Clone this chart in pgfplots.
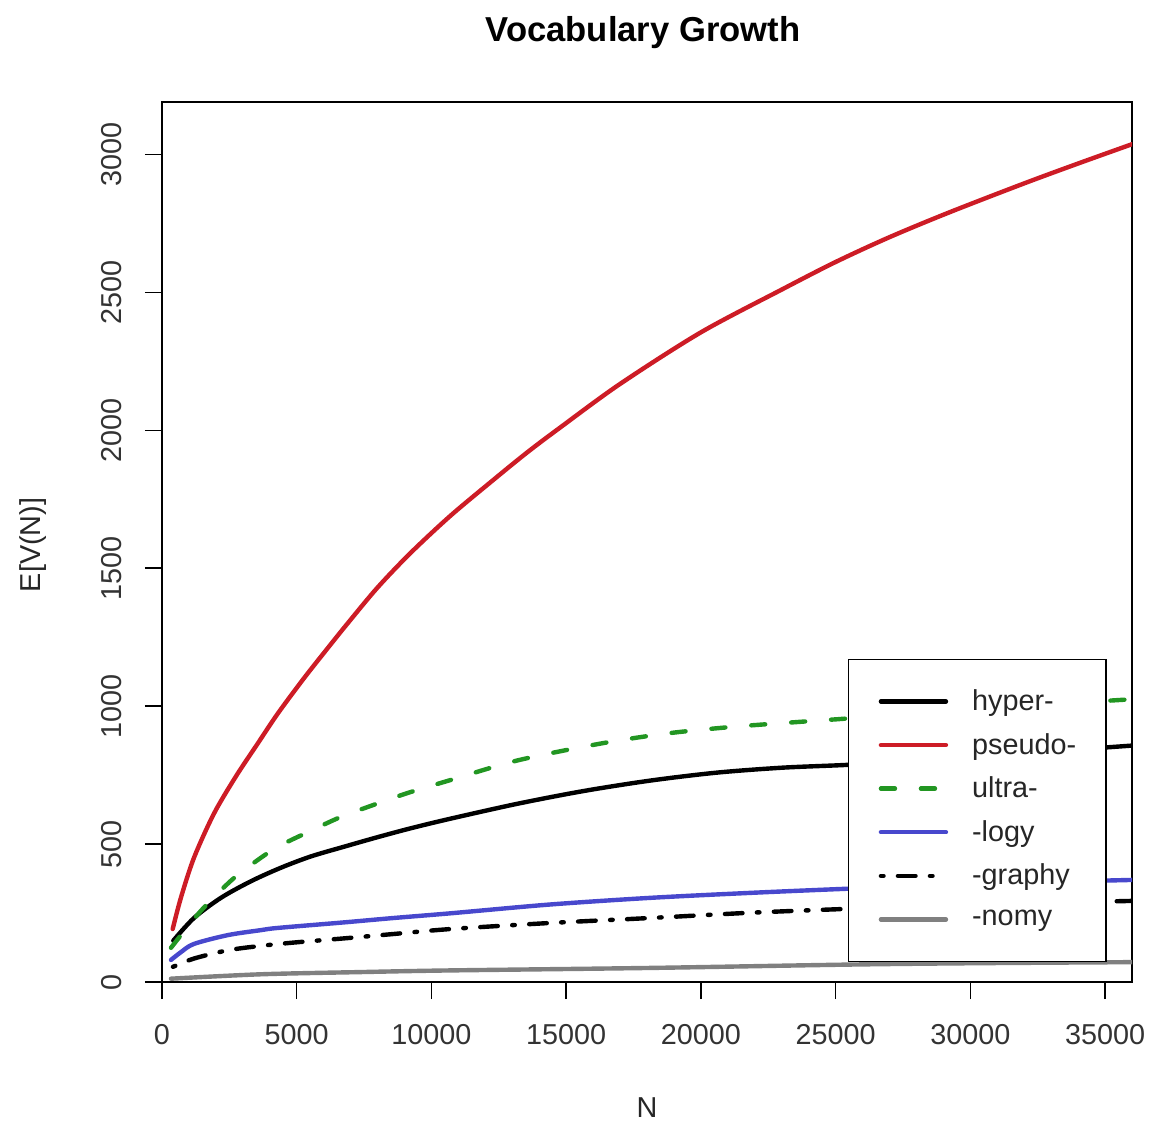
\documentclass[border=0pt]{standalone}
\usepackage{fontspec}
\setmainfont{Liberation Sans}
\usepackage{pgfplots}
\pgfplotsset{compat=1.18}
\definecolor{cred}{RGB}{205,28,38}
\definecolor{cgreen}{RGB}{34,150,34}
\definecolor{cblue}{RGB}{72,72,205}
\definecolor{cgray}{RGB}{128,128,128}
\begin{document}
\begin{tikzpicture}
\useasboundingbox (-81pt,-71pt) rectangle (493.5pt,491pt);
\begin{axis}[
  at={(0,0)}, anchor=south west,
  width=485pt, height=440pt, scale only axis,
  xmin=0, xmax=36000, ymin=0, ymax=3190,
  xtick={0,5000,...,35000}, ytick={0,500,...,3000},
  scaled ticks=false,
  /pgf/number format/1000 sep={},
  /pgf/number format/assume math mode=true,
  tick align=outside, tick pos=left,
  major tick length=8.5pt,
  every tick/.style={black, line width=0.75pt},
  axis line style={black, line width=0.75pt},
  ticklabel style={font=\fontsize{14.4}{17}\selectfont, text=black!80},
  xticklabel style={anchor=center, yshift=-18pt},
  yticklabel style={xshift=-16.5pt, rotate=90, anchor=center},
  label style={font=\fontsize{14.4}{17}\selectfont, text=black!85},
  xlabel={N},
  x label style={at={(axis description cs:0.5,-0.143)}, anchor=center},
  ylabel={E[V(N)]},
  y label style={at={(axis description cs:-0.133,0.4966)}, anchor=center},
  title={Vocabulary Growth},
  title style={at={(axis description cs:0.4959,1.0648)}, anchor=center, font=\bfseries\fontsize{17.3}{20}\selectfont},
  legend image code/.code={\draw[#1] (0pt,0pt) -- (32.5pt,0pt);},
  legend cell align=left,
  legend style={at={(0.7072,0.0227)}, anchor=south west, draw=black, line width=0.75pt, fill=white,
    inner xsep=15pt, inner ysep=10pt, row sep=0pt, column sep=0pt,
    nodes={inner sep=0pt, minimum height=21.8pt, font=\fontsize{14.4}{17}\selectfont, text=black!85},
    /tikz/every odd column/.style={column sep=12pt}},
  every axis plot/.append style={line width=2.2pt, line cap=round, line join=round, smooth, tension=0.5},
]
\addplot[black] table {
420 150
1185 232
2185 305
3296 365
4407 414
5519 455
6741 490
8000 525
9222 557
10704 592
13185 646
15630 692
18111 730
20593 759
23037 777
25407 787
28000 802
31000 822
34000 843
36000 857
};
\addlegendentry{hyper-}
\addplot[cred] table {
396 192
700 305
1185 450
1926 610
2741 745
3556 865
4296 973
5259 1100
6148 1210
6889 1300
8000 1430
9222 1555
10704 1690
12296 1820
13556 1920
14778 2010
17000 2168
20000 2355
23000 2510
25000 2610
27000 2700
29222 2790
32000 2895
34000 2967
36000 3037
};
\addlegendentry{pseudo-}
\addplot[cgreen, dash pattern=on 7pt off 13pt] table {
333 124
1444 258
2556 367
3407 432
4296 490
5519 548
6630 598
7852 642
9111 685
10704 732
13185 803
16259 864
18741 901
21185 925
23667 943
25407 955
28000 975
31000 995
33500 1010
36000 1025
};
\addlegendentry{ultra-}
\addplot[cblue] table {
333 80
700 108
1185 138
2444 170
3667 188
4296 196
6741 216
8593 232
10704 249
14407 281
18111 305
21815 323
25407 338
30000 355
36000 370
};
\addlegendentry{-logy}
\addplot[black, dash pattern=on 1.3pt off 7.2pt on 8.8pt off 7.2pt] table {
407 55
1185 85
2444 115
3667 131
4889 143
6741 158
8593 174
10704 192
14407 214
18111 232
21815 251
25407 265
30000 280
36000 294
};
\addlegendentry{-graphy}
\addplot[cgray] table {
333 12
3667 28
7370 36
10704 42
18111 51
25407 63
30000 68
36000 72
};
\addlegendentry{-nomy}
\end{axis}
\end{tikzpicture}
\end{document}
